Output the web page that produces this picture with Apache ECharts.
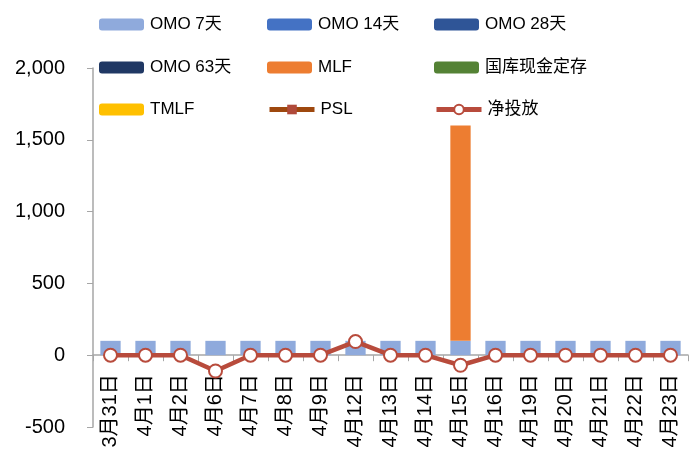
<!DOCTYPE html>
<html><head><meta charset="utf-8">
<script src="https://cdn.jsdelivr.net/npm/echarts@6/dist/echarts.min.js"></script>
<style>html,body{margin:0;padding:0;background:#fff}#c{width:691px;height:455px}</style>
</head><body><div id="c"></div>
<script>
const categories = ['3月31日','4月1日','4月2日','4月6日','4月7日','4月8日','4月9日','4月12日','4月13日','4月14日','4月15日','4月16日','4月19日','4月20日','4月21日','4月22日','4月23日'];
const omo7 = [100,100,100,100,100,100,100,100,100,100,100,100,100,100,100,100,100];
const omo14 = [];
const omo28 = [];
const omo63 = [];
const mlf = [null,null,null,null,null,null,null,null,null,null,1500,null,null,null,null,null,null];
const gkxj = [];
const tmlf = [];
const psl = [];
const net = [0,0,0,-110,0,0,0,95,0,0,-70,0,0,0,0,0,0];
const yTicks = {min:-500, max:2000, interval:500};

const font = '"Liberation Sans","Noto Sans CJK SC",sans-serif';
const barNames = ['OMO 7天','OMO 14天','OMO 28天','OMO 63天','MLF','国库现金定存','TMLF'];
const barData = [omo7, omo14, omo28, omo63, mlf, gkxj, tmlf];
const barColors = ['#8FAADC','#4472C4','#2F5597','#203864','#ED7D31','#548235','#FFC000'];

const series = barNames.map((n,i)=>({
  name:n, type:'bar', stack:'s', data:barData[i], barCategoryGap:'42%',
  itemStyle:{color:barColors[i]}
}));
series.push({name:'PSL', type:'line', data:psl, symbol:'rect', symbolSize:10,
  lineStyle:{color:'#9E480E', width:4.5}, itemStyle:{color:'#B04A3A'}});
series.push({name:'净投放', type:'line', data:net, symbol:'circle', symbolSize:13, z:5,
  lineStyle:{color:'#B84B3C', width:4.5},
  itemStyle:{color:'#fff', borderColor:'#B84B3C', borderWidth:2}});

const legendNames = ['OMO 7天','OMO 14天','OMO 28天','OMO 63天','MLF','国库现金定存','TMLF','PSL','净投放'];
const colX = [99, 267, 434];
const rowY = [16, 59, 101];
const legends = legendNames.map((n,i)=>({
  data:[n], left:colX[i%3], top:rowY[Math.floor(i/3)], itemWidth:45, itemHeight:12,
  itemGap:0, textStyle:{fontSize:17, color:'#000', fontFamily:font, padding:[0,0,0,1]},
  lineStyle:{width:5},
  selectedMode:false, padding:0
}));

const gridTop = 68, gridBottom = 28, H = 455;
const gridH = H - gridTop - gridBottom;
const zeroOffset = gridH * (0 - yTicks.min) / (yTicks.max - yTicks.min);

const chart = echarts.init(document.getElementById('c'));
chart.setOption({
  animation:false,
  legend:legends,
  grid:{left:93, right:3, top:gridTop, bottom:gridBottom, containLabel:false, outerBoundsMode:'none'},
  xAxis:{type:'category', data:categories, offset:-zeroOffset,
    axisLine:{onZero:false, lineStyle:{color:'#A6A6A6', width:1.5}},
    axisTick:{show:true, length:6, lineStyle:{color:'#A6A6A6'}},
    axisLabel:{rotate:90, interval:0, fontSize:20, color:'#000', fontFamily:font, margin:19}},
  yAxis:{type:'value', min:yTicks.min, max:yTicks.max, interval:yTicks.interval,
    splitLine:{show:false},
    axisLine:{show:true, lineStyle:{color:'#A6A6A6', width:1.5}},
    axisTick:{show:true, length:6, lineStyle:{color:'#A6A6A6'}},
    axisLabel:{fontSize:20, color:'#000', fontFamily:font, margin:28,
      formatter:v=>v.toLocaleString('en-US')}},
  series:series
});
</script></body></html>
